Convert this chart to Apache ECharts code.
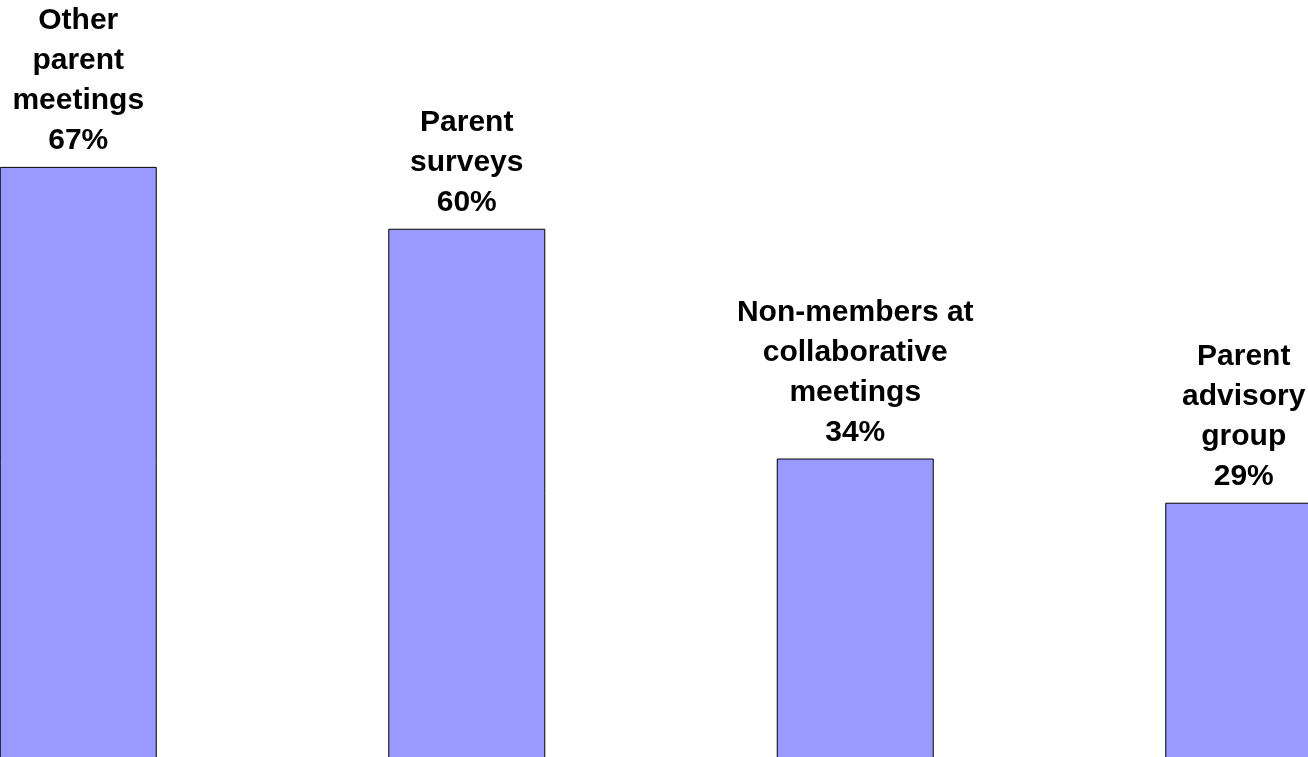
<!DOCTYPE html>
<html>
<head>
<meta charset="utf-8">
<script src="https://cdn.jsdelivr.net/npm/echarts@6/dist/echarts.min.js"></script>
<style>
  html, body { margin: 0; padding: 0; background: #ffffff; }
  #chart { width: 1308px; height: 757px; }
</style>
</head>
<body>
<div id="chart"></div>
<script>
const categories = [
  "Other\nparent\nmeetings",
  "Parent\nsurveys",
  "Non-members at\ncollaborative\nmeetings",
  "Parent\nadvisory\ngroup"
];
const values = [67, 60, 34, 29];

const chart = echarts.init(document.getElementById('chart'), null, { renderer: 'canvas' });
chart.setOption({
  animation: false,
  backgroundColor: '#ffffff',
  grid: { left: -116, width: 1554, top: 52, bottom: -2, containLabel: false, outerBoundsMode: 'none' },
  xAxis: {
    type: 'category',
    data: categories,
    show: false
  },
  yAxis: {
    type: 'value',
    min: 0,
    max: 80,
    show: false
  },
  series: [{
    type: 'bar',
    data: values,
    barWidth: 157,
    itemStyle: { color: '#9999FF', borderColor: '#000000', borderWidth: 1 },
    label: {
      show: true,
      position: 'top',
      distance: 6,
      fontFamily: '"Liberation Sans", Arial, sans-serif',
      fontWeight: 'bold',
      fontSize: 30,
      lineHeight: 40,
      color: '#000000',
      align: 'center',
      formatter: function (p) { return p.name + '\n' + p.value + '%'; }
    }
  }]
});
</script>
</body>
</html>
